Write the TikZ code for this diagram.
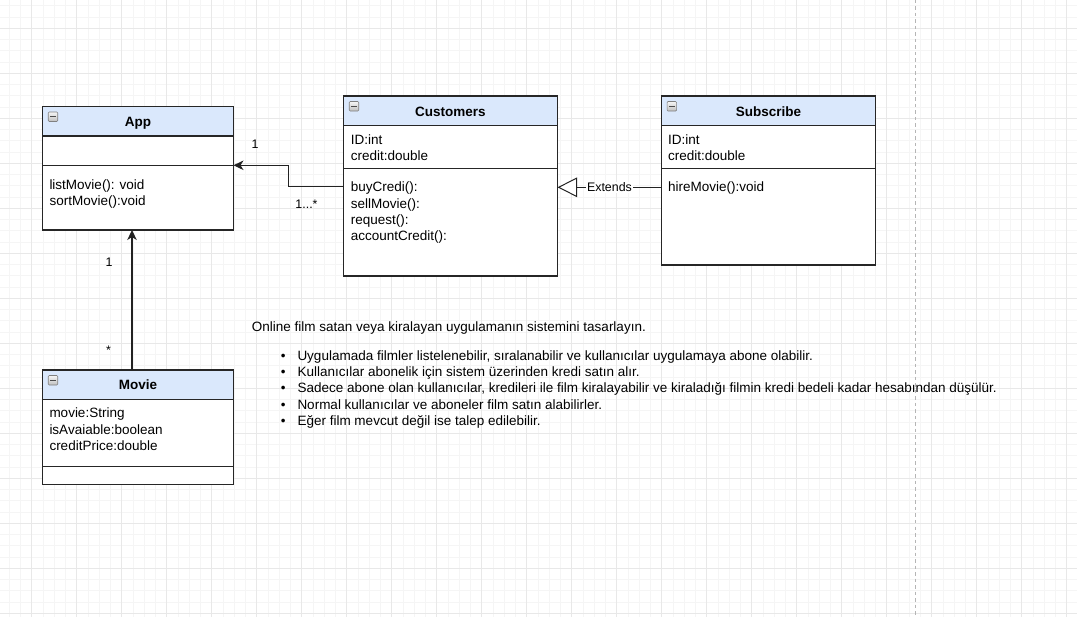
\documentclass[tikz,border=0pt]{standalone}
\usepackage{fontspec}
\setmainfont{Liberation Sans}
\usetikzlibrary{arrows.meta,calc}
\definecolor{hdrfill}{HTML}{DAE8FC}
\definecolor{bord}{HTML}{262626}
\definecolor{gridminor}{HTML}{F5F5F5}
\definecolor{gridmajor}{HTML}{E8E8E8}
\definecolor{dashcol}{HTML}{B5B5B5}
\definecolor{conn}{HTML}{222222}
\tikzset{
  box/.style={draw=bord, line width=1.2pt, fill=white, inner sep=0pt, outer sep=0pt, anchor=north west},
  hdr/.style={box, fill=hdrfill},
  ttl/.style={font=\bfseries\fontsize{13.5}{16}\selectfont, anchor=base, inner sep=0pt},
  txt/.style={font=\fontsize{13.5}{16}\selectfont, anchor=base west, inner sep=0pt},
  lbl/.style={font=\fontsize{12.4}{14}\selectfont, anchor=base, inner sep=0pt},
  icon/.style={draw=black!50, line width=0.6pt, top color=black!4, bottom color=black!25,
    minimum size=9.5pt, inner sep=0pt, rounded corners=1pt,
    path picture={\draw[line width=1.4pt, black!70] ([xshift=2pt]path picture bounding box.west) -- ([xshift=-2pt]path picture bounding box.east);}},
  arr/.style={draw=conn, line width=1.1pt, -{Stealth[length=10pt,width=9.5pt,inset=3pt]}},
  ext/.style={draw=conn, line width=1pt, -{Triangle[length=19.5pt,width=19.5pt,fill=white]}},
  extlbl/.style={font=\fontsize{12.4}{14}\selectfont, fill=white, inner sep=1pt},
}
\begin{document}
\begin{tikzpicture}[x=1pt,y=-1pt]
\path[use as bounding box, fill=white] (0,0) rectangle (1077,617);
% grid
\foreach \k in {-1,...,95} {\draw[gridminor, line width=0.8pt] ({9.2+11.25*\k},0) -- ({9.2+11.25*\k},617);}
\foreach \k in {0,...,54} {\draw[gridminor, line width=0.8pt] (0,{5.8+11.25*\k}) -- (1077,{5.8+11.25*\k});}
\foreach \k in {0,...,23} {\draw[gridmajor, line width=0.9pt] ({31.7+45*\k},0) -- ({31.7+45*\k},617);}
\foreach \k in {0,...,13} {\draw[gridmajor, line width=0.9pt] (0,{28.3+45*\k}) -- (1077,{28.3+45*\k});}
\draw[dashcol, line width=1pt, dash pattern=on 3.5pt off 3pt] (915.7,0) -- (915.7,617);

% App
\node[hdr, minimum width=191pt, minimum height=29.5pt] (app-h) at (42.5,106.5) {};
\node[box, minimum width=191pt, minimum height=29.3pt] (app-a) at (42.5,136) {};
\node[box, minimum width=191pt, minimum height=64.7pt] (app-m) at (42.5,165.3) {};
\node[icon] (app-i) at (53,116.8) {};
\node[ttl] (app-t) at (138,127) {App};
\node[txt] (app-m1) at (49.3,189.2) {listMovie(): void};
\node[txt] (app-m2) at (49.3,205.4) {sortMovie():void};

% Customers
\node[hdr, minimum width=213.9pt, minimum height=29.7pt] (cust-h) at (343.6,96) {};
\node[box, minimum width=213.9pt, minimum height=42.6pt] (cust-a) at (343.6,125.7) {};
\node[box, minimum width=213.9pt, minimum height=107.7pt] (cust-m) at (343.6,168.3) {};
\node[icon] (cust-i) at (354,106.3) {};
\node[ttl] (cust-t) at (450.5,117) {Customers};
\node[txt] (cust-a1) at (350.7,144.8) {ID:int};
\node[txt] (cust-a2) at (350.7,161) {credit:double};
\node[txt] (cust-m1) at (350.7,192) {buyCredi():};
\node[txt] (cust-m2) at (350.7,208.2) {sellMovie():};
\node[txt] (cust-m3) at (350.7,224.4) {request():};
\node[txt] (cust-m4) at (350.7,240.6) {accountCredit():};

% Subscribe
\node[hdr, minimum width=214pt, minimum height=29.7pt] (sub-h) at (661.4,96) {};
\node[box, minimum width=214pt, minimum height=42.6pt] (sub-a) at (661.4,125.7) {};
\node[box, minimum width=214pt, minimum height=96.7pt] (sub-m) at (661.4,168.3) {};
\node[icon] (sub-i) at (671.8,106.3) {};
\node[ttl] (sub-t) at (768.4,117) {Subscribe};
\node[txt] (sub-a1) at (667.8,144.8) {ID:int};
\node[txt] (sub-a2) at (667.8,161) {credit:double};
\node[txt] (sub-m1) at (667.8,192) {hireMovie():void};

% Movie
\node[hdr, minimum width=191pt, minimum height=29.3pt] (movie-h) at (42.5,370) {};
\node[box, minimum width=191pt, minimum height=67.4pt] (movie-a) at (42.5,399.3) {};
\node[box, minimum width=191pt, minimum height=17.6pt] (movie-m) at (42.5,466.7) {};
\node[icon] (movie-i) at (53,380.3) {};
\node[ttl] (movie-t) at (138,389.2) {Movie};
\node[txt] (movie-a1) at (49.3,418) {movie:String};
\node[txt] (movie-a2) at (49.3,434.2) {isAvaiable:boolean};
\node[txt] (movie-a3) at (49.3,450.4) {creditPrice:double};

% connectors
\draw[arr] ([yshift=-18pt]cust-m.north west) -- ++(-55,0) |- (app-m.north east);
\draw[arr] ([xshift=-6pt]movie-h.north) -- ([xshift=-6pt]app-m.south);
\draw[ext] ([yshift=-19pt]sub-m.north west) -- ([yshift=-19pt]cust-m.north east)
  node[midway, extlbl] (extl) {Extends};

% multiplicities
\node[lbl] (l1) at (255,148.5) {1};
\node[lbl] (l2) at (306.5,208.6) {1...*};
\node[lbl] (l3) at (109,266.8) {1};
\node[lbl] (l4) at (108.5,355) {*};

% description
\node[txt] (d0) at (251.7,331.5) {Online film satan veya kiralayan uygulamanın sistemini tasarlayın.};
\foreach \i/\t in {0/{Uygulamada filmler listelenebilir, sıralanabilir ve kullanıcılar uygulamaya abone olabilir.},
  1/{Kullanıcılar abonelik için sistem üzerinden kredi satın alır.},
  2/{Sadece abone olan kullanıcılar, kredileri ile film kiralayabilir ve kiraladığı filmin kredi bedeli kadar hesabından düşülür.},
  3/{Normal kullanıcılar ve aboneler film satın alabilirler.},
  4/{Eğer film mevcut değil ise talep edilebilir.}} {
  \node[txt, anchor=base] (b\i) at (283.3,{360.2+16.3*\i}) {•};
  \node[txt] (t\i) at (297.3,{360.2+16.3*\i}) {\t};
}
\end{tikzpicture}
\end{document}
